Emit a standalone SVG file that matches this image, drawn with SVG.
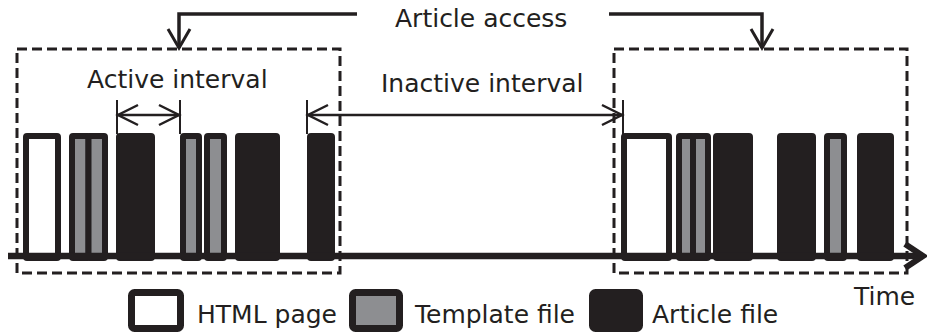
<svg xmlns="http://www.w3.org/2000/svg" width="928" height="333" viewBox="0 0 928 333">
  <style>
    text { font-family: "DejaVu Sans", "Liberation Sans", sans-serif; font-size: 25px; fill: #231f20; }
    .session { fill: none; stroke: #231f20; stroke-width: 3; stroke-dasharray: 10 5; }
    .bar { stroke: #231f20; stroke-width: 6; stroke-linejoin: round; }
    .html { fill: #ffffff; }
    .tmpl { fill: #8d8e91; }
    .art { fill: #231f20; }
    .key { stroke: #231f20; stroke-width: 7; stroke-linejoin: round; }
    .link { fill: none; stroke: #231f20; stroke-width: 3.5; }
    .span { fill: none; stroke: #231f20; stroke-width: 2.5; }
    .tick { fill: none; stroke: #231f20; stroke-width: 2; }
    .axis { fill: none; stroke: #231f20; stroke-width: 6.5; }
  </style>
  <defs>
    <marker id="headAccess" markerUnits="userSpaceOnUse" viewBox="-24 -14 28 28" markerWidth="28" markerHeight="28" refX="0" refY="0" orient="auto-start-reverse">
      <path d="M-19,-11 L0,0 L-19,11" fill="none" stroke="#231f20" stroke-width="3"/>
    </marker>
    <marker id="headSpan" markerUnits="userSpaceOnUse" viewBox="-24 -14 28 28" markerWidth="28" markerHeight="28" refX="0" refY="0" orient="auto-start-reverse">
      <path d="M-20,-10 L0,0 L-20,10" fill="none" stroke="#231f20" stroke-width="2.5"/>
    </marker>
    <marker id="headAxis" markerUnits="userSpaceOnUse" viewBox="-26 -18 30 36" markerWidth="30" markerHeight="36" refX="0" refY="0" orient="auto">
      <path d="M-18,-12 L0,0 L-18,12" fill="none" stroke="#231f20" stroke-width="6"/>
    </marker>
  </defs>

  <!-- session windows -->
  <g id="session-1">
    <rect class="session" x="17" y="49" width="323" height="224"/>
  </g>
  <g id="session-2">
    <rect class="session" x="614" y="49" width="293" height="224"/>
  </g>

  <!-- requests in the first session -->
  <g id="requests-1">
    <rect class="bar html" x="26" y="136" width="32" height="122" rx="1"/>
    <rect class="bar tmpl" x="72" y="136" width="16.5" height="122" rx="1"/>
    <rect class="bar tmpl" x="88.5" y="136" width="16.5" height="122" rx="1"/>
    <rect class="bar art" x="119" y="136" width="33" height="122" rx="1"/>
    <rect class="bar tmpl" x="183" y="136" width="16" height="122" rx="1"/>
    <rect class="bar tmpl" x="207" y="136" width="17" height="122" rx="1"/>
    <rect class="bar art" x="238" y="136" width="39" height="122" rx="1"/>
    <rect class="bar art" x="310" y="136" width="22" height="122" rx="1"/>
  </g>

  <!-- requests in the second session -->
  <g id="requests-2">
    <rect class="bar html" x="624" y="136" width="45" height="122" rx="1"/>
    <rect class="bar tmpl" x="679" y="136" width="14" height="122" rx="1"/>
    <rect class="bar tmpl" x="693" y="136" width="15" height="122" rx="1"/>
    <rect class="bar art" x="716" y="136" width="34" height="122" rx="1"/>
    <rect class="bar art" x="780" y="136" width="33" height="122" rx="1"/>
    <rect class="bar tmpl" x="827" y="136" width="17" height="122" rx="1"/>
    <rect class="bar art" x="860" y="136" width="31" height="122" rx="1"/>
  </g>

  <!-- labels -->
  <g id="label-access">
    <text x="395" y="27">Article access</text>
  </g>
  <g id="label-active">
    <text x="87" y="88">Active interval</text>
  </g>
  <g id="label-inactive">
    <text x="381" y="92">Inactive interval</text>
  </g>
  <g id="label-time">
    <text x="854" y="305">Time</text>
  </g>

  <!-- connectors -->
  <g id="connectors">
    <polyline class="link" points="357,14 179,14 179,48" marker-end="url(#headAccess)"/>
    <polyline class="link" points="609,14 762,14 762,48" marker-end="url(#headAccess)"/>

    <line class="tick" x1="117" y1="100" x2="117" y2="134"/>
    <line class="tick" x1="180" y1="100" x2="180" y2="134"/>
    <line class="span" x1="118" y1="115" x2="179" y2="115" marker-start="url(#headSpan)" marker-end="url(#headSpan)"/>

    <line class="tick" x1="307" y1="100" x2="307" y2="134"/>
    <line class="tick" x1="623" y1="100" x2="623" y2="134"/>
    <line class="span" x1="308" y1="115" x2="622" y2="115" marker-start="url(#headSpan)" marker-end="url(#headSpan)"/>

    <line class="axis" x1="8" y1="256" x2="923" y2="256" marker-end="url(#headAxis)"/>
  </g>

  <!-- legend -->
  <g id="legend-html">
    <rect class="key html" x="131.5" y="292.5" width="49" height="36" rx="3"/>
    <text x="197" y="323">HTML page</text>
  </g>
  <g id="legend-template">
    <rect class="key tmpl" x="352.5" y="292.5" width="47" height="36" rx="3"/>
    <text x="415" y="323" textLength="160" lengthAdjust="spacingAndGlyphs">Template file</text>
  </g>
  <g id="legend-article">
    <rect class="key art" x="592.5" y="292.5" width="47" height="36" rx="3"/>
    <text x="652" y="323">Article file</text>
  </g>
</svg>
